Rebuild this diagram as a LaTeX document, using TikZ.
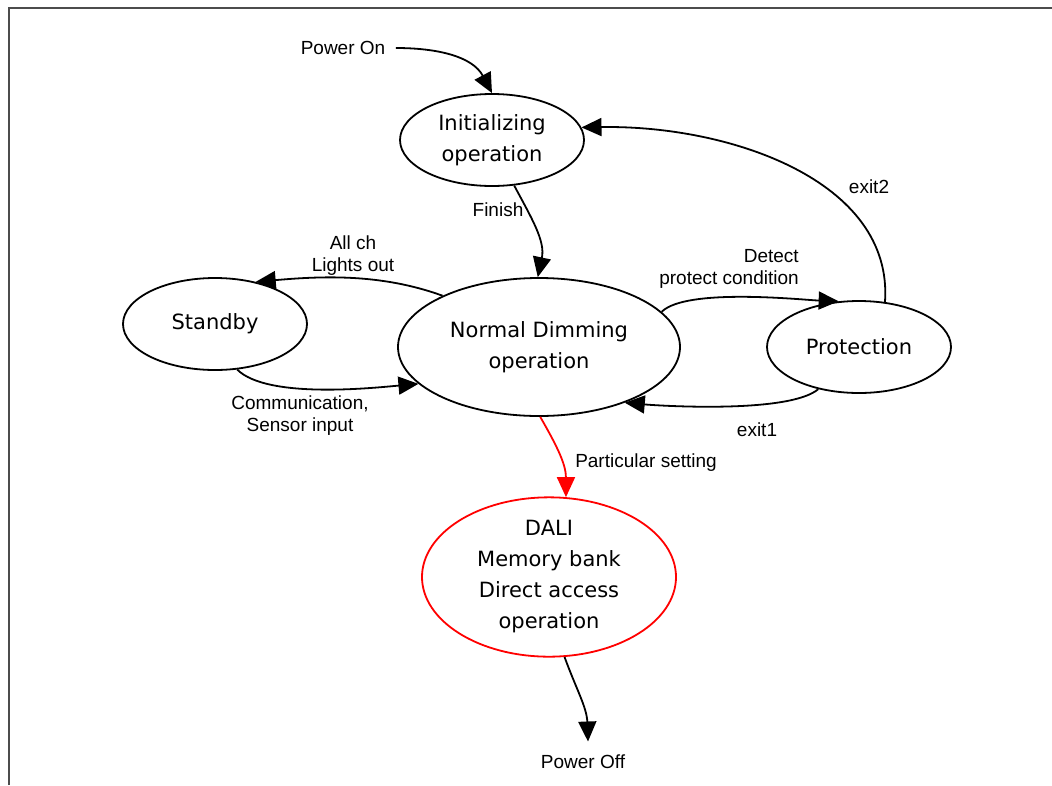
\documentclass[tikz,border=0pt]{standalone}
\usepackage{fontspec}
\setmainfont{Liberation Sans}
\newfontfamily\statefont{DejaVu Sans}
\usetikzlibrary{arrows.meta,positioning,shapes.geometric}

\begin{document}
\begin{tikzpicture}[
      x=1pt,y=-1pt,
      every node/.style={on grid},
      state/.style={draw,ellipse,line width=1.8pt,inner sep=0pt,align=center,
        minimum width=184pt,minimum height=92pt,
        font=\statefont\fontsize{21}{31}\selectfont},
      lbl/.style={align=center,font=\fontsize{19}{22}\selectfont},
      trans/.style={-{Triangle[length=20pt,width=18pt]},line width=1.8pt},
      frame/.style={draw=black!70,line width=2pt}
    ]
    \useasboundingbox (0,0) rectangle (1052,785);
    \draw[frame] (9,785) -- (9,8) -- (1052,8);

    % states
    \node[state,minimum width=282pt,minimum height=138pt] (normal) at (539,347) {Normal Dimming\\operation};
    \node[state,above left=207pt and 47pt of normal] (init) {Initializing\\operation};
    \node[state,above left=23pt and 324pt of normal] (standby) {Standby};
    \node[state,right=320pt of normal] (prot) {Protection};
    \node[state,below right=230pt and 10pt of normal,minimum width=254pt,minimum height=140pt,draw=red] (dali) {DALI\\Memory bank\\Direct access\\operation};

    % power on / off
    \node[lbl,above left=92pt and 149pt of init] (pon) {Power On};
    \node[lbl,below right=185pt and 34pt of dali] (poff) {Power Off};

    % the arrows
    \draw[trans] (pon.east) ++(7,0) to[out=0,in=118] (init.90);
    \draw[trans] (init.-64) to[out=-62,in=78] (normal.91);
    \draw[trans] (normal.152) to[out=160,in=5,looseness=0.9] (standby.46);
    \draw[trans] (standby.-64) to[out=-45,in=185,looseness=0.6] (normal.197);
    \draw[trans] (normal.16) to[out=45,in=178,looseness=0.5] (prot.114);
    \draw[trans] (prot.226) to[out=-140,in=-5,looseness=0.5] (normal.-33);
    \draw[trans] (prot.60) to[out=86,in=1,out distance=122pt,in distance=147pt] (init.8);
    \draw[trans,red] (normal.-89) to[out=-60,in=90] (dali.78);
    \draw[trans] (dali.-79) to[out=-70,in=92] ([xshift=5pt,yshift=10pt]poff.north);

    % labels
    \node[lbl] (finish) at (498,210) {Finish};
    \node[lbl] (lightsout) at (353,256) {All ch\\Lights out};
    \node[lbl] (sensor) at (300,416) {Communication,\\Sensor input};
    \node[lbl,align=right] (detect) at (729,269) {Detect\\protect condition};
    \node[lbl] (exitone) at (757,430) {exit1};
    \node[lbl] (exittwo) at (869,187) {exit2};
    \node[lbl] (partset) at (646,463) {Particular setting};
    \end{tikzpicture}
\end{document}
